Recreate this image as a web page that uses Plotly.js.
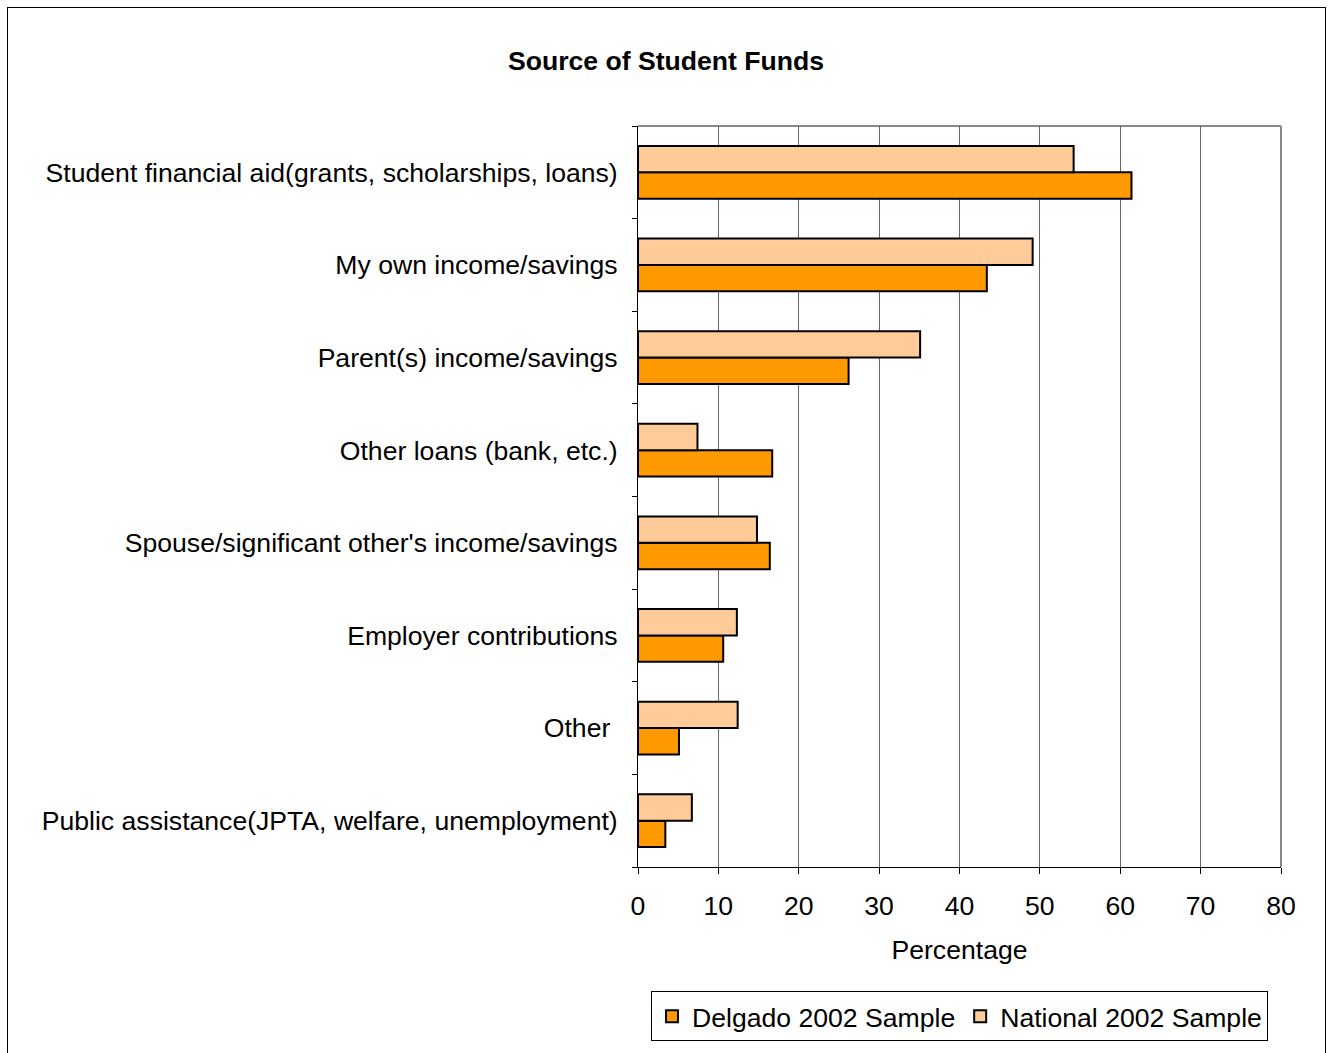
<!DOCTYPE html>
<html>
<head>
<meta charset="utf-8">
<script src="https://cdn.plot.ly/plotly-3.0.1.min.js"></script>
<style>
body{margin:0;padding:0;background:#fff;}
#wrap{position:relative;width:1332px;height:1053px;}
#chart{width:1332px;height:1053px;}
#frame{position:absolute;left:7px;top:7px;width:1317px;height:1050px;border:1px solid #000;pointer-events:none;}
</style>
</head>
<body>
<div id="wrap"><div id="chart"></div><div id="frame"></div></div>
<script>
const categories = [
  "Student financial aid(grants, scholarships, loans)",
  "My own income/savings",
  "Parent(s) income/savings",
  "Other loans (bank, etc.)",
  "Spouse/significant other's income/savings",
  "Employer contributions",
  "Other ",
  "Public assistance(JPTA, welfare, unemployment)"
];
const delgado2002 = [61.4, 43.4, 26.2, 16.7, 16.4, 10.6, 5.1, 3.4];
const national2002 = [54.2, 49.1, 35.1, 7.4, 14.8, 12.3, 12.4, 6.7];
const xTicks = [0, 10, 20, 30, 40, 50, 60, 70, 80];

const font = "Liberation Sans, Arial, sans-serif";
const fs = 26.6;

const traces = [
  {
    type: 'bar', orientation: 'h', name: 'Delgado 2002 Sample',
    y: categories, x: delgado2002,
    marker: {color: '#FF9900', line: {color: '#000', width: 2}}
  },
  {
    type: 'bar', orientation: 'h', name: 'National 2002 Sample',
    y: categories, x: national2002,
    marker: {color: '#FFCC99', line: {color: '#000', width: 2}}
  }
];

const layout = {
  width: 1332, height: 1053,
  margin: {l: 638, r: 51, t: 126, b: 180, pad: 0},
  paper_bgcolor: '#fff', plot_bgcolor: '#fff',
  font: {family: font, color: '#000', size: fs},
  title: {text: '<b>Source of Student Funds</b>', font: {family: font, size: fs, color: '#000'},
          x: 0.5, xref: 'container', y: 1 - 61/1053, yref: 'container', yanchor: 'middle'},
  barmode: 'group', bargap: 0.43, bargroupgap: 0,
  showlegend: true,
  legend: {orientation: 'h', x: 0.5, xanchor: 'center', y: -0.168, yanchor: 'top',
           bordercolor: '#000', borderwidth: 1, font: {family: font, size: fs},
           traceorder: 'normal', itemwidth: 30, tracegroupgap: 0},
  xaxis: {
    range: [0, 80], tickvals: xTicks, ticktext: xTicks.map(String),
    showgrid: true, gridcolor: '#666', gridwidth: 1,
    showline: true, linecolor: '#000', linewidth: 1,
    ticks: 'outside', ticklen: 6, tickcolor: '#000',
    tickfont: {family: font, size: fs},
    ticklabelstandoff: 9,
    zeroline: false, mirror: false,
    title: {text: 'Percentage', font: {family: font, size: fs}, standoff: 20}
  },
  yaxis: {
    type: 'category', categoryorder: 'array', categoryarray: categories.slice().reverse(),
    showline: true, linecolor: '#000', linewidth: 1,
    ticks: 'outside', ticklen: 5, tickcolor: '#000', tickson: 'boundaries',
    showgrid: false, zeroline: false,
    tickfont: {family: font, size: fs},
    ticklabelstandoff: 14
  },
  shapes: [
    {type: 'line', xref: 'paper', yref: 'paper', x0: 0, x1: 1, y0: 1, y1: 1, line: {color: '#888', width: 2}, layer: 'below'},
    {type: 'line', xref: 'paper', yref: 'paper', x0: 1, x1: 1, y0: 0, y1: 1, line: {color: '#888', width: 2}, layer: 'below'}
  ]
};

Plotly.newPlot('chart', traces, layout, {displayModeBar: false, staticPlot: true});
</script>
</body>
</html>
